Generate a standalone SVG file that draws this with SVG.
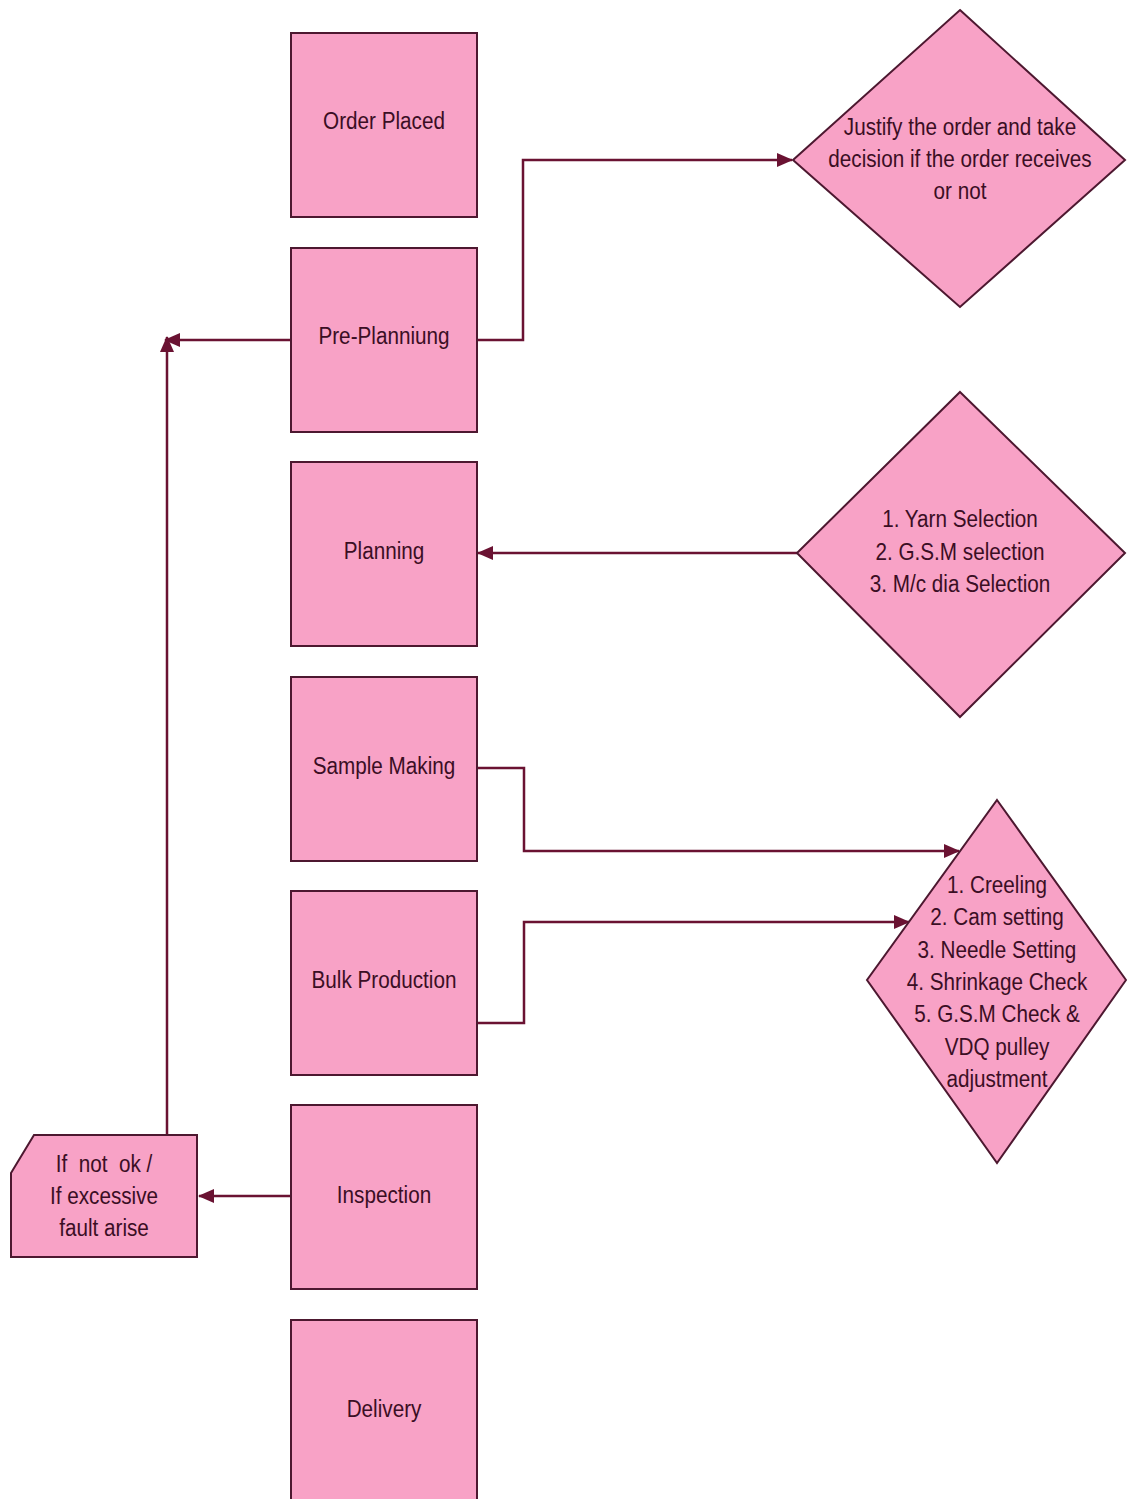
<svg xmlns="http://www.w3.org/2000/svg" width="1127" height="1499" viewBox="0 0 1127 1499">
  <style>
    .box { fill: #F8A2C6; stroke: #4d1830; stroke-width: 2; }
    .lbl { font-family: "Liberation Sans", Arial, sans-serif; font-size: 23px; fill: #3b0e24; text-anchor: middle; white-space: pre; }
    .wire { fill: none; stroke: #6a1232; stroke-width: 2.5; }
  </style>
  <defs>
    <marker id="arrow" viewBox="0 0 16 14" refX="15" refY="7" markerWidth="16" markerHeight="14" markerUnits="userSpaceOnUse" orient="auto">
      <path d="M0,0 L16,7 L0,14 Z" fill="#6a1232"/>
    </marker>
  </defs>
  <rect width="1127" height="1499" fill="#ffffff"/>

  <!-- connectors -->
  <g id="connectors">
    <polyline class="wire" points="477,340 523,340 523,160 792,160" marker-end="url(#arrow)"/>
    <polyline class="wire" points="291,340 165,340" marker-end="url(#arrow)"/>
    <polyline class="wire" points="167,1135 167,337" marker-end="url(#arrow)"/>
    <polyline class="wire" points="797,553 478,553" marker-end="url(#arrow)"/>
    <polyline class="wire" points="477,768 524,768 524,851 959,851" marker-end="url(#arrow)"/>
    <polyline class="wire" points="477,1023 524,1023 524,922 909,922" marker-end="url(#arrow)"/>
    <polyline class="wire" points="291,1196 199,1196" marker-end="url(#arrow)"/>
  </g>

  <!-- process steps (labels slightly condensed, as in narrow Arial) -->
  <g id="order-placed">
    <rect class="box" x="291" y="33" width="186" height="184"/>
    <text class="lbl" transform="translate(384,129) scale(0.9,1.06)">Order Placed</text>
  </g>
  <g id="pre-planning">
    <rect class="box" x="291" y="248" width="186" height="184"/>
    <text class="lbl" transform="translate(384,344) scale(0.9,1.06)">Pre-Planniung</text>
  </g>
  <g id="planning">
    <rect class="box" x="291" y="462" width="186" height="184"/>
    <text class="lbl" transform="translate(384,559) scale(0.9,1.06)">Planning</text>
  </g>
  <g id="sample-making">
    <rect class="box" x="291" y="677" width="186" height="184"/>
    <text class="lbl" transform="translate(384,774) scale(0.9,1.06)">Sample Making</text>
  </g>
  <g id="bulk-production">
    <rect class="box" x="291" y="891" width="186" height="184"/>
    <text class="lbl" transform="translate(384,988) scale(0.9,1.06)">Bulk Production</text>
  </g>
  <g id="inspection">
    <rect class="box" x="291" y="1105" width="186" height="184"/>
    <text class="lbl" transform="translate(384,1203) scale(0.9,1.06)">Inspection</text>
  </g>
  <g id="delivery">
    <rect class="box" x="291" y="1320" width="186" height="184"/>
    <text class="lbl" transform="translate(384,1417) scale(0.9,1.06)">Delivery</text>
  </g>

  <!-- decisions -->
  <g id="justify-order">
    <polygon class="box" points="960,10 1125,160 960,307 793,160"/>
    <text class="lbl" transform="translate(960,135) scale(0.9,1.06)">Justify the order and take</text>
    <text class="lbl" transform="translate(960,167) scale(0.9,1.06)">decision if the order receives</text>
    <text class="lbl" transform="translate(960,199) scale(0.9,1.06)">or not</text>
  </g>
  <g id="selection">
    <polygon class="box" points="960,392 1125,553 960,717 797,553"/>
    <text class="lbl" transform="translate(960,527) scale(0.9,1.06)">1. Yarn Selection</text>
    <text class="lbl" transform="translate(960,560) scale(0.9,1.06)">2. G.S.M selection</text>
    <text class="lbl" transform="translate(960,592) scale(0.9,1.06)">3. M/c dia Selection</text>
  </g>
  <g id="machine-setup">
    <polygon class="box" points="997,800 1126,980 997,1163 867,980"/>
    <text class="lbl" transform="translate(997,893) scale(0.9,1.06)">1. Creeling</text>
    <text class="lbl" transform="translate(997,925) scale(0.9,1.06)">2. Cam setting</text>
    <text class="lbl" transform="translate(997,958) scale(0.9,1.06)">3. Needle Setting</text>
    <text class="lbl" transform="translate(997,990) scale(0.9,1.06)">4. Shrinkage Check</text>
    <text class="lbl" transform="translate(997,1022) scale(0.9,1.06)">5. G.S.M Check &amp;</text>
    <text class="lbl" transform="translate(997,1055) scale(0.9,1.06)">VDQ pulley</text>
    <text class="lbl" transform="translate(997,1087) scale(0.9,1.06)">adjustment</text>
  </g>

  <!-- rework note -->
  <g id="fault-note">
    <polygon class="box" points="34,1135 197,1135 197,1257 11,1257 11,1173"/>
    <text class="lbl" transform="translate(104,1172) scale(0.9,1.06)">If  not  ok /</text>
    <text class="lbl" transform="translate(104,1204) scale(0.9,1.06)">If excessive</text>
    <text class="lbl" transform="translate(104,1236) scale(0.9,1.06)">fault arise</text>
  </g>
</svg>
